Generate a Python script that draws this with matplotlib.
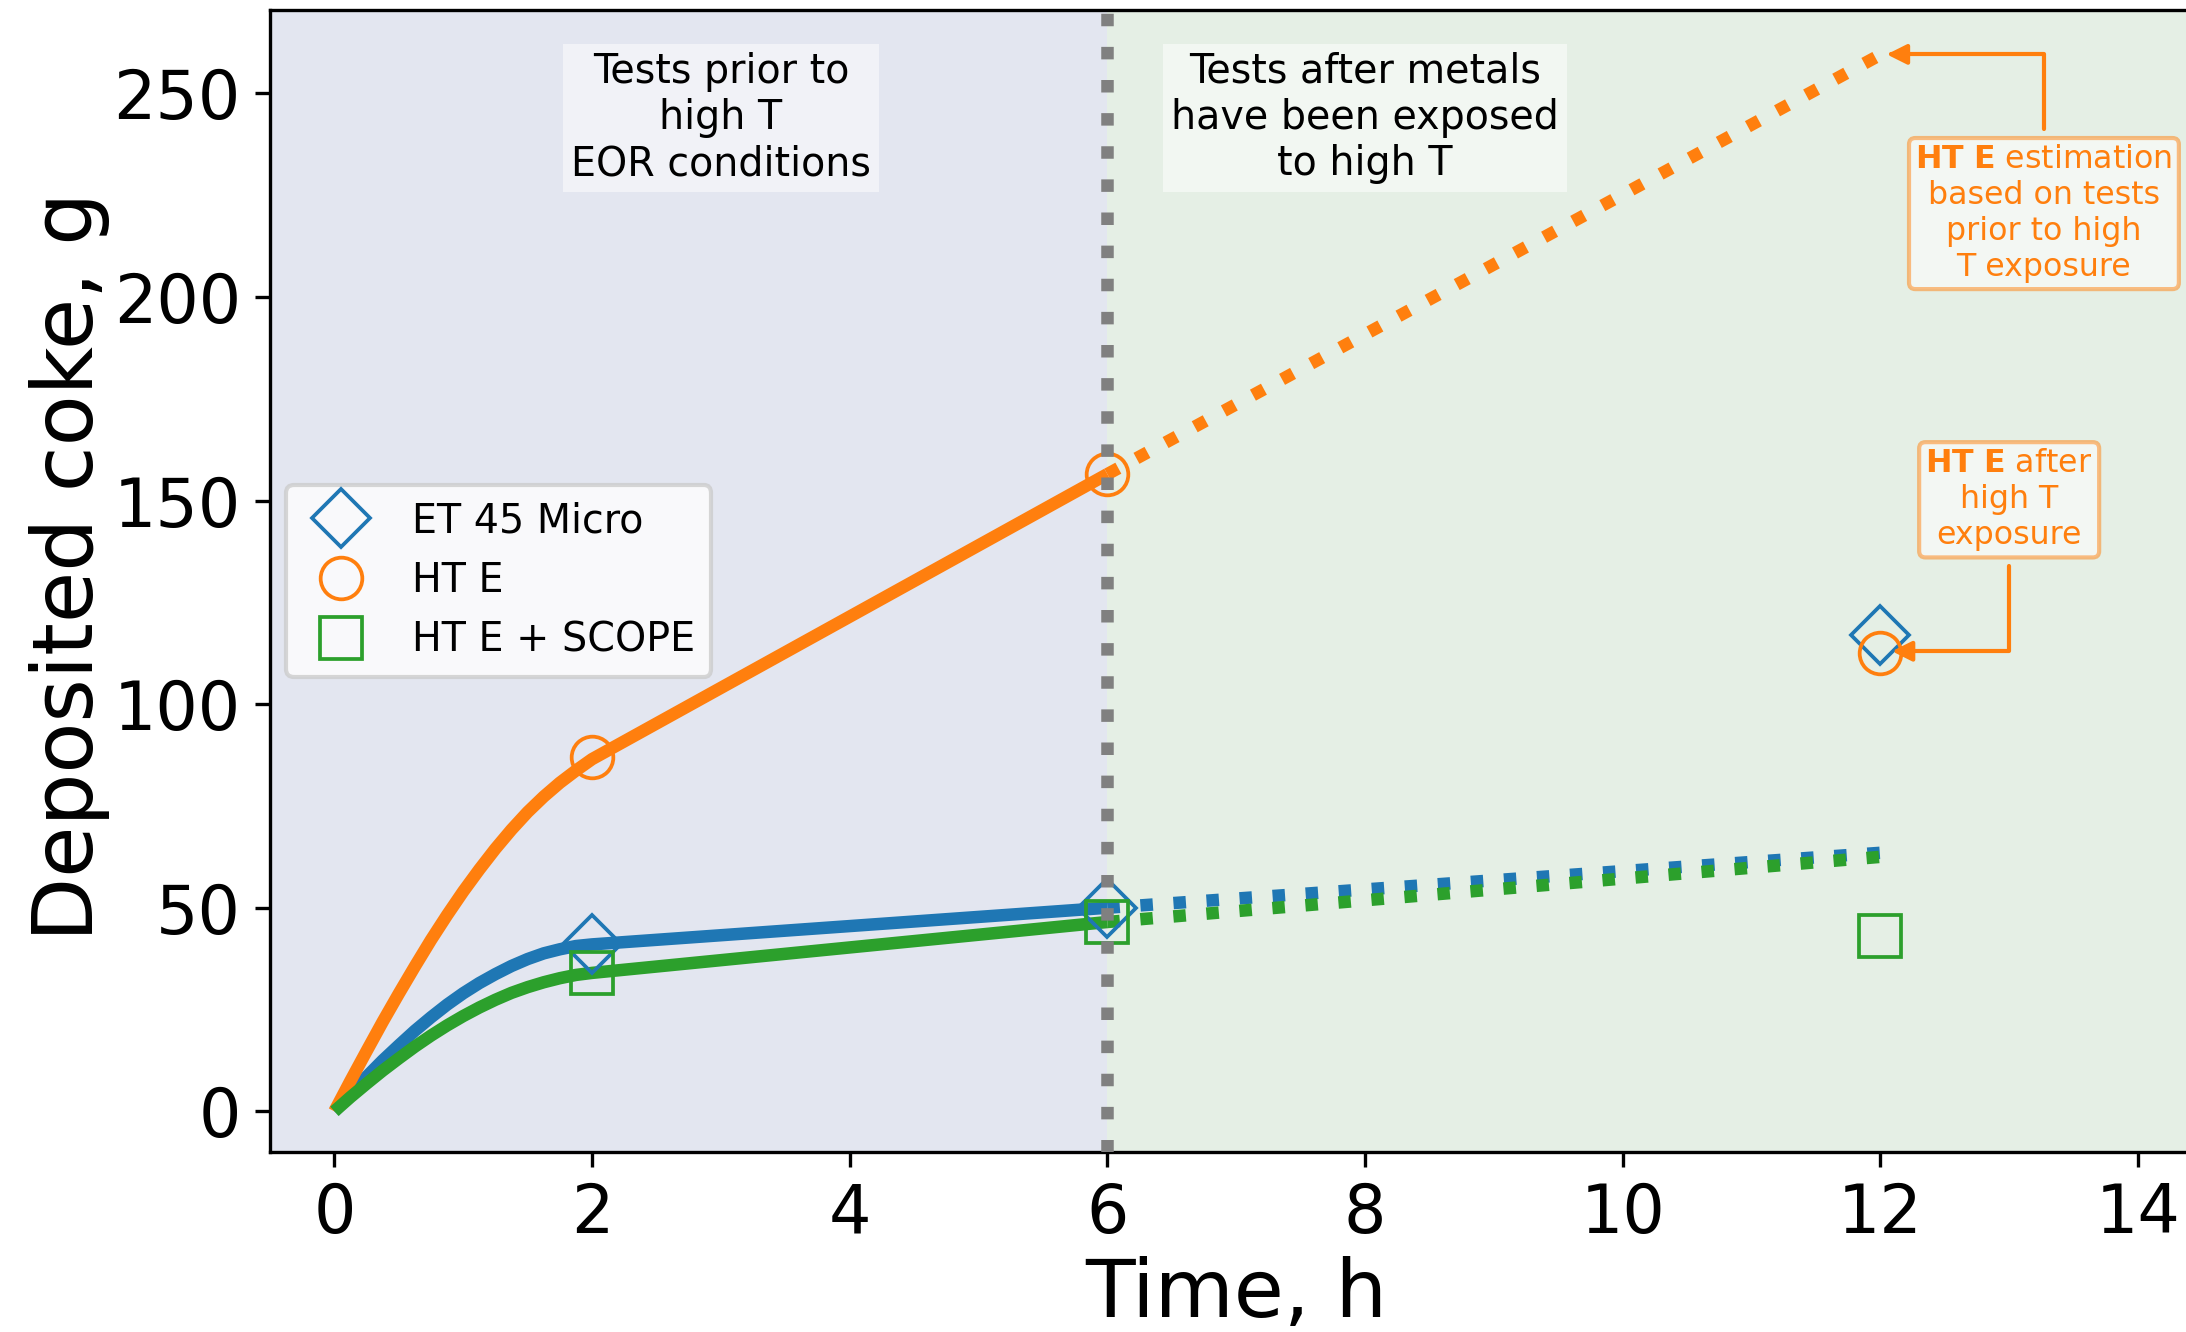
import matplotlib
matplotlib.use('Agg')
import matplotlib.pyplot as plt

# fitted curves (solid part, 0-6 h)
time_fit = [0, 0.125, 0.25, 0.375, 0.5, 0.625, 0.75, 0.875, 1.0, 1.125, 1.25,
            1.375, 1.5, 1.625, 1.75, 1.875, 2, 6]
et45_fit = [0, 4.3, 8.5, 12.5, 16.2, 19.8, 23.1, 26.2, 29.0, 31.5, 33.7,
            35.7, 37.4, 38.8, 39.8, 40.6, 41, 50]
hte_fit = [0, 7.5, 14.8, 22.0, 28.9, 35.6, 42.1, 48.2, 54.0, 59.4, 64.5,
           69.2, 73.5, 77.3, 80.7, 83.7, 86.5, 156.5]
scope_fit = [0, 3.5, 6.8, 10.0, 13.0, 15.9, 18.6, 21.1, 23.4, 25.5, 27.4,
             29.1, 30.5, 31.7, 32.7, 33.5, 34, 46.5]

# extrapolation to 12 h (dotted)
time_ext = [6, 12]
et45_ext = [50, 63.5]
hte_ext = [156.5, 259.5]
scope_ext = [46.5, 62.5]

# measured points
time_meas = [2, 6, 12]
et45_meas = [41, 50, 117]
hte_meas = [87, 156.5, 112.5]
scope_meas = [34, 46.5, 43]

labels = ['ET 45 Micro', 'HT E', 'HT E + SCOPE']
colors = ['#1f77b4', '#ff7f0e', '#2ca02c']
markers = ['D', 'o', 's']

fig = plt.figure(figsize=(2186 / 300, 1332 / 300), dpi=300)
ax = fig.add_axes([0.1235, 0.1351, 0.884, 0.8574])

ax.axvspan(-0.5, 6, color='#e3e6f0', zorder=0, lw=0)
ax.axvspan(6, 14.5, color='#e5efe5', zorder=0, lw=0)

fits = [et45_fit, hte_fit, scope_fit]
exts = [et45_ext, hte_ext, scope_ext]
meas = [et45_meas, hte_meas, scope_meas]
for i in range(3):
    ax.plot(time_fit, fits[i], color=colors[i], lw=3, zorder=2,
            solid_capstyle='butt', solid_joinstyle='round')
    ax.plot(time_ext, exts[i], color=colors[i], lw=3, ls=':', zorder=2)
for i in range(3):
    ax.plot(time_meas, meas[i], ls='none', marker=markers[i], ms=10, mfc='none',
            mec=colors[i], mew=0.9, label=labels[i], zorder=3)

ax.axvline(6, color='gray', ls=':', lw=3, zorder=4)

ax.text(3, 244, 'Tests prior to\nhigh T\nEOR conditions', ha='center', va='center',
        fontsize=9.5, bbox=dict(boxstyle='square,pad=0.2', fc=(1, 1, 1, 0.5), ec='none'))
ax.text(8, 244, 'Tests after metals\nhave been exposed\nto high T', ha='center', va='center',
        fontsize=9.5, bbox=dict(boxstyle='square,pad=0.2', fc=(1, 1, 1, 0.5), ec='none'))

orange = '#ff7f0e'
box = dict(boxstyle='round,pad=0.2', fc=(1, 1, 1, 0.55), ec=(1, 0.5, 0.05, 0.5), lw=1)
ax.annotate('$\\bf{HT\\ E}$ estimation\nbased on tests\nprior to high\nT exposure',
            xy=(12.05, 259.6), xytext=(13.27, 220.5), ha='center', va='center',
            fontsize=7.6, color=orange, bbox=box, zorder=5,
            arrowprops=dict(arrowstyle='-|>', color=orange, lw=1, mutation_scale=10,
                            connectionstyle='angle,angleA=90,angleB=0,rad=0',
                            shrinkA=2, shrinkB=0))
ax.annotate('$\\bf{HT\\ E}$ after\nhigh T\nexposure',
            xy=(12.09, 113), xytext=(13.0, 150.2), ha='center', va='center',
            fontsize=7.6, color=orange, bbox=box, zorder=5,
            arrowprops=dict(arrowstyle='-|>', color=orange, lw=1, mutation_scale=10,
                            connectionstyle='angle,angleA=90,angleB=0,rad=0',
                            shrinkA=2, shrinkB=0))

ax.set_xlim(-0.5, 14.5)
ax.set_ylim(-10, 270.5)
ax.set_xticks(range(0, 15, 2))
ax.set_yticks(range(0, 251, 50))
ax.tick_params(labelsize=16)
ax.set_xlabel('Time, h', fontsize=19.5, labelpad=2)
ax.set_ylabel('Deposited coke, g', fontsize=20)
ax.yaxis.set_label_coords(-0.083, 0.513)

ax.legend(loc='center left', bbox_to_anchor=(0.0, 0.5), fontsize=9.5, borderaxespad=0.4)

fig.savefig('out.png', dpi=300)
